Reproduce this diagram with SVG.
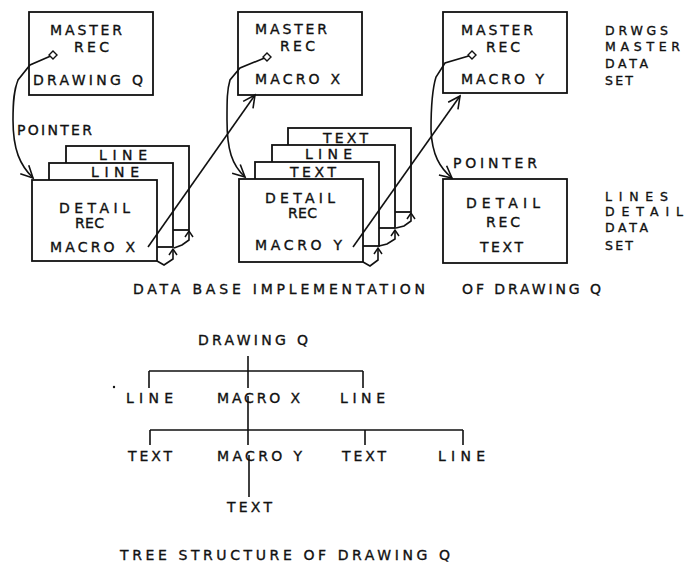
<svg xmlns="http://www.w3.org/2000/svg" width="684" height="565" viewBox="0 0 684 565">
<style>
text{font-family:"DejaVu Sans","Liberation Sans",Arial,sans-serif;font-size:14px;fill:#111;stroke:#111;stroke-width:0.35}
text.sm{font-size:12.5px}
.box{fill:#fff;stroke:#111;stroke-width:1.8}
.ln{fill:none;stroke:#111;stroke-width:1.6}
.dia{fill:#fff;stroke:#111;stroke-width:1.4}
</style>
<defs>
<marker id="arr" markerUnits="userSpaceOnUse" viewBox="-14 -8 16 16" refX="0" refY="0" markerWidth="16" markerHeight="16" orient="auto">
<path d="M-12,-6 L0,0 L-12,6" fill="none" stroke="#111" stroke-width="1.6"/>
</marker>
<marker id="arrS" markerUnits="userSpaceOnUse" viewBox="-8 -5 10 10" refX="0" refY="0" markerWidth="10" markerHeight="10" orient="auto">
<path d="M-6,-4 L0,0 L-6,4" fill="none" stroke="#111" stroke-width="1.5"/>
</marker>
</defs>

<g id="master-drawing-q">
<rect class="box" x="29" y="12" width="124" height="83"/>
<text x="50" y="35" textLength="72" lengthAdjust="spacing">MASTER</text>
<text x="74" y="52" textLength="35" lengthAdjust="spacing">REC</text>
<text x="33" y="85" textLength="110" lengthAdjust="spacing">DRAWING Q</text>
</g>
<g id="master-macro-x">
<rect class="box" x="238" y="12" width="124" height="83"/>
<text x="255" y="34" textLength="72" lengthAdjust="spacing">MASTER</text>
<text x="280" y="51" textLength="35" lengthAdjust="spacing">REC</text>
<text x="255" y="84" textLength="85" lengthAdjust="spacing">MACRO X</text>
</g>
<g id="master-macro-y">
<rect class="box" x="443" y="12" width="124" height="81"/>
<text x="461" y="35" textLength="72" lengthAdjust="spacing">MASTER</text>
<text x="486" y="52" textLength="34" lengthAdjust="spacing">REC</text>
<text x="461" y="84" textLength="83" lengthAdjust="spacing">MACRO Y</text>
</g>

<g id="detail-stack-1">
<rect class="box" x="66" y="146" width="123" height="84"/>
<text x="99" y="160" textLength="48" lengthAdjust="spacing">LINE</text>
<rect class="box" x="49" y="163" width="124" height="84"/>
<text x="91" y="177" textLength="48" lengthAdjust="spacing">LINE</text>
<rect class="box" x="32" y="180" width="125" height="81"/>
<text x="59" y="213" textLength="71" lengthAdjust="spacing">DETAIL</text>
<text x="75" y="228" textLength="29" lengthAdjust="spacing">REC</text>
<text x="50" y="252" textLength="85" lengthAdjust="spacing">MACRO X</text>
</g>
<g id="detail-stack-2">
<rect class="box" x="288" y="128" width="123" height="84"/>
<text x="323" y="143" textLength="45" lengthAdjust="spacing">TEXT</text>
<rect class="box" x="272" y="145" width="123" height="83"/>
<text x="305" y="159" textLength="47" lengthAdjust="spacing">LINE</text>
<rect class="box" x="255" y="162" width="124" height="84"/>
<text x="290" y="177" textLength="46" lengthAdjust="spacing">TEXT</text>
<rect class="box" x="239" y="179" width="124" height="83"/>
<text x="265" y="203" textLength="70" lengthAdjust="spacing">DETAIL</text>
<text x="288" y="218" textLength="29" lengthAdjust="spacing">REC</text>
<text x="255" y="250" textLength="87" lengthAdjust="spacing">MACRO Y</text>
</g>
<g id="detail-text">
<rect class="box" x="443" y="179" width="124" height="84"/>
<text x="466" y="208" textLength="74" lengthAdjust="spacing">DETAIL</text>
<text x="486" y="227" textLength="34" lengthAdjust="spacing">REC</text>
<text x="480" y="252" textLength="43" lengthAdjust="spacing">TEXT</text>
</g>

<g id="labels">
<text x="17" y="135" textLength="75" lengthAdjust="spacing">POINTER</text>
<text x="453" y="168" textLength="84" lengthAdjust="spacing">POINTER</text>
<text class="sm" x="605" y="35" textLength="63" lengthAdjust="spacing">DRWGS</text>
<text class="sm" x="605" y="51" textLength="75" lengthAdjust="spacing">MASTER</text>
<text class="sm" x="605" y="68" textLength="43" lengthAdjust="spacing">DATA</text>
<text class="sm" x="605" y="85" textLength="28" lengthAdjust="spacing">SET</text>
<text class="sm" x="605" y="201" textLength="63" lengthAdjust="spacing">LINES</text>
<text class="sm" x="605" y="216" textLength="78" lengthAdjust="spacing">DETAIL</text>
<text class="sm" x="605" y="232" textLength="43" lengthAdjust="spacing">DATA</text>
<text class="sm" x="605" y="250" textLength="28" lengthAdjust="spacing">SET</text>
<text x="133" y="294" textLength="292" lengthAdjust="spacing">DATA BASE IMPLEMENTATION</text>
<text x="462" y="294" textLength="139" lengthAdjust="spacing">OF DRAWING Q</text>
<text x="120" y="560" textLength="330" lengthAdjust="spacing">TREE STRUCTURE OF DRAWING Q</text>
</g>

<g id="connectors">
<path class="ln" d="M53,55 L30,65 L18,80 C14,90 13,100 13,120 C13,150 20,165 33,178" marker-end="url(#arr)"/>
<path class="ln" d="M267,57 L240,68 L230,80 C227,90 227,100 227,120 C227,150 232,165 245,177" marker-end="url(#arr)"/>
<path class="ln" d="M472,55 L445,63 L436,77 C432,90 431,110 431,130 C432,155 440,168 452,178" marker-end="url(#arr)"/>
<polygon class="dia" points="53,51 57,55 53,59 49,55"/>
<polygon class="dia" points="267,53 271,57 267,61 263,57"/>
<polygon class="dia" points="472,51 476,55 472,59 468,55"/>
<path class="ln" d="M148,247 L255,95" marker-end="url(#arr)"/>
<path class="ln" d="M353,247 L460,96" marker-end="url(#arr)"/>
<path class="ln" d="M157,261 L164,265 L173,259 L173,249" marker-end="url(#arrS)"/>
<path class="ln" d="M174,248 L182,245 L189,240 L189,231" marker-end="url(#arrS)"/>
<path class="ln" d="M363,262 L370,266 L378,260 L378,248" marker-end="url(#arrS)"/>
<path class="ln" d="M379,246 L387,244 L395,239 L395,230" marker-end="url(#arrS)"/>
<path class="ln" d="M396,228 L404,226 L411,221 L411,213" marker-end="url(#arrS)"/>
</g>

<g id="tree-root">
<text x="198" y="345" textLength="110" lengthAdjust="spacing">DRAWING Q</text>
</g>
<g id="tree-line-1"><text x="126" y="403" textLength="47" lengthAdjust="spacing">LINE</text></g>
<g id="tree-macro-x"><text x="217" y="403" textLength="83" lengthAdjust="spacing">MACRO X</text></g>
<g id="tree-line-2"><text x="340" y="403" textLength="45" lengthAdjust="spacing">LINE</text></g>
<g id="tree-text-1"><text x="128" y="461" textLength="44" lengthAdjust="spacing">TEXT</text></g>
<g id="tree-macro-y"><text x="217" y="461" textLength="85" lengthAdjust="spacing">MACRO Y</text></g>
<g id="tree-text-2"><text x="342" y="461" textLength="44" lengthAdjust="spacing">TEXT</text></g>
<g id="tree-line-3"><text x="438" y="461" textLength="47" lengthAdjust="spacing">LINE</text></g>
<g id="tree-text-3"><text x="227" y="512" textLength="45" lengthAdjust="spacing">TEXT</text></g>
<g id="tree-connectors">
<path class="ln" d="M248,356 V371 M149,371 H363 M149,371 V388 M248,371 V388 M363,371 V388"/>
<path class="ln" d="M248,396 V430 M150,430 H463 M150,430 V445 M248,430 V445 M365,430 V445 M463,430 V445"/>
<path class="ln" d="M249,455 V497"/>
</g>
<circle cx="114" cy="387" r="1.2" fill="#111"/>
</svg>
